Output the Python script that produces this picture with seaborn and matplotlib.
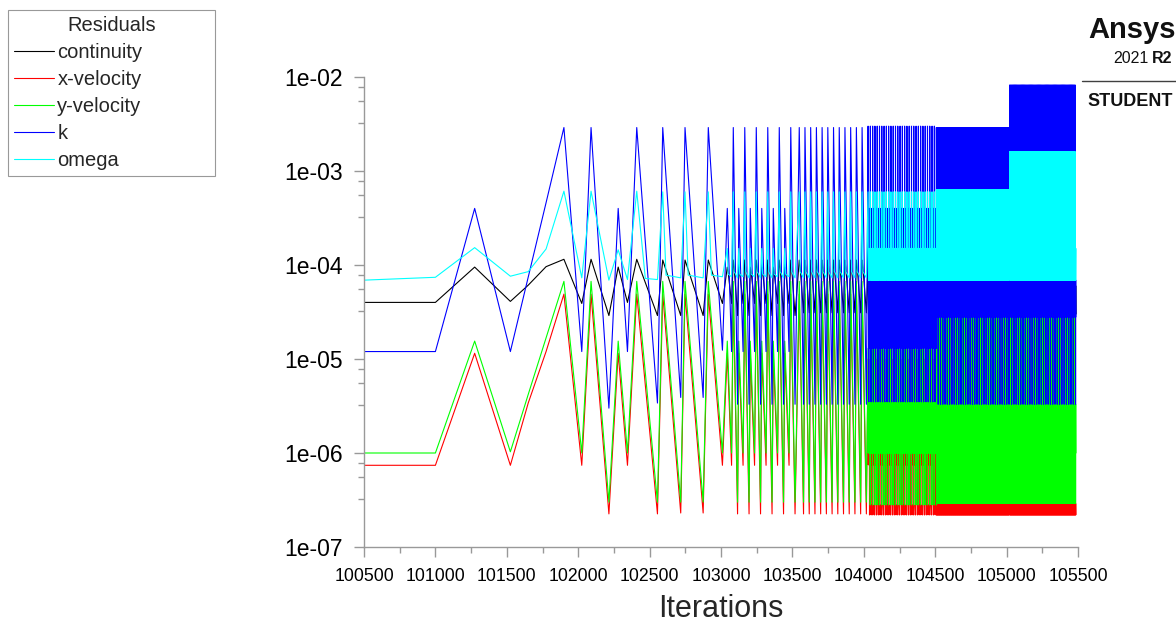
import matplotlib
matplotlib.use("Agg")
import matplotlib.pyplot as plt
import pandas as pd
import seaborn as sns
from matplotlib.lines import Line2D

names = ["continuity", "x-velocity", "y-velocity", "k", "omega"]
colors = ["#000000", "#ff0000", "#00ff00", "#0000ff", "#00ffff"]

# start of the run, read point by point
start_iter = [100500, 101000, 101275, 101525, 101650, 101775, 101900, 102025, 102090, 102215,
              102280, 102345, 102410, 102555, 102592, 102718, 102748, 102875, 102911, 103010]
start_cont = [4.0e-5, 4.0e-5, 9.5e-5, 4.1e-5, 6.1e-5, 9.6e-5, 1.15e-4, 3.9e-5, 1.15e-4, 2.9e-5,
              9.5e-5, 4.0e-5, 1.15e-4, 2.9e-5, 1.13e-4, 2.9e-5, 1.13e-4, 2.9e-5, 1.13e-4, 3.9e-5]
start_xvel = [7.4e-7, 7.4e-7, 1.15e-5, 7.4e-7, 3.4e-6, 1.2e-5, 4.9e-5, 7.4e-7, 4.9e-5, 2.25e-7,
              1.15e-5, 7.4e-7, 4.9e-5, 2.25e-7, 4.9e-5, 2.3e-7, 4.9e-5, 2.3e-7, 4.9e-5, 7.4e-7]
start_yvel = [1.0e-6, 1.0e-6, 1.55e-5, 1.03e-6, 4.2e-6, 1.67e-5, 6.7e-5, 1.0e-6, 6.7e-5, 3.0e-7,
              1.55e-5, 1.0e-6, 6.7e-5, 3.0e-7, 6.7e-5, 3.0e-7, 6.7e-5, 3.0e-7, 6.7e-5, 1.0e-6]
start_k = [1.2e-5, 1.2e-5, 4.0e-4, 1.2e-5, 7.4e-5, 4.6e-4, 2.9e-3, 1.2e-5, 2.9e-3, 3.0e-6,
           4.0e-4, 1.2e-5, 2.9e-3, 3.4e-6, 2.9e-3, 3.9e-6, 2.9e-3, 3.9e-6, 2.9e-3, 1.24e-5]
start_omega_iter = [100500, 101000, 101275, 101525, 101650, 101775, 101900, 102025, 102090, 102215,
                    102280, 102345, 102410, 102470, 102555, 102592, 102615, 102718, 102748, 102770,
                    102875, 102911, 102933, 103010]
start_omega = [6.9e-5, 7.4e-5, 1.53e-4, 7.6e-5, 8.5e-5, 1.48e-4, 6.1e-4, 7.3e-5, 6.1e-4, 6.9e-5,
               1.45e-4, 7.0e-5, 6.1e-4, 7.2e-5, 7.0e-5, 6.0e-4, 7.8e-5, 7.3e-5, 6.0e-4, 7.8e-5,
               7.3e-5, 6.0e-4, 7.8e-5, 7.5e-5]

# repeating stretches: one cycle, repeated
sec2_start, sec2_period, sec2_cycles = 103044, 80.5, 6
sec2_offsets = [0, 6, 30, 42, 48, 72]
sec2_cont = [9.5e-5, 8.5e-5, 3.9e-5, 1.13e-4, 9.5e-5, 2.9e-5]
sec2_xvel = [1.15e-5, 6.6e-6, 7.4e-7, 4.9e-5, 1.7e-5, 2.25e-7]
sec2_yvel = [1.55e-5, 8.9e-6, 1.0e-6, 6.7e-5, 2.3e-5, 3.0e-7]
sec2_k = [4.0e-4, 2.0e-4, 1.2e-5, 2.9e-3, 7.4e-4, 3.3e-6]
sec2_omega = [1.5e-4, 8.0e-5, 7.5e-5, 6.0e-4, 8.5e-5, 7.3e-5]

sec3_start, sec3_period, sec3_cycles = 103548, 40, 12
sec3_offsets = [0, 6, 30]
sec3_cont = [1.13e-4, 9.5e-5, 3.1e-5]
sec3_xvel = [4.9e-5, 1.7e-5, 2.25e-7]
sec3_yvel = [6.7e-5, 2.3e-5, 3.0e-7]
sec3_k = [2.9e-3, 7.4e-4, 3.3e-6]
sec3_omega = [6.0e-4, 8.5e-5, 7.3e-5]

sec4_start, sec4_period, sec4_cycles = 104030, 16, 30
sec4_offsets = [0, 1, 3, 5, 7, 9, 10, 11, 13, 15]
sec4_cont = [1.13e-4, 5.0e-5, 3.0e-5, 5.0e-5, 3.0e-5, 5.0e-5, 3.0e-5, 5.0e-5, 3.0e-5, 4.0e-5]
sec4_xvel = [1.0e-5, 7.5e-7, 1.0e-6, 7.5e-7, 1.0e-6, 7.5e-7, 2.2e-7, 2.8e-7, 2.2e-7, 2.8e-7]
sec4_yvel = [1.3e-5, 1.0e-6, 3.5e-6, 1.0e-6, 3.5e-6, 1.0e-6, 3.5e-6, 1.0e-6, 3.5e-6, 2.8e-7]
sec4_k = [3.0e-3, 1.5e-4, 6.9e-5, 3.5e-6, 6.9e-5, 4.0e-4, 1.5e-4, 4.0e-4, 6.9e-5, 1.3e-5]
sec4_omega = [6.0e-4, 1.5e-4, 6.9e-5, 1.5e-4, 6.9e-5, 1.5e-4, 6.9e-5, 1.5e-4, 6.9e-5, 1.5e-4]

sec5_start, sec5_period, sec5_cycles = 104508, 16, 32
sec5_offsets = list(range(16))
sec5_cont = [1.1e-4, 3.0e-5, 6.0e-5, 3.0e-5, 6.0e-5, 3.0e-5, 6.0e-5, 3.0e-5,
             1.1e-4, 3.0e-5, 6.0e-5, 3.0e-5, 6.0e-5, 3.0e-5, 6.0e-5, 3.0e-5]
sec5_xvel = [2.0e-5, 2.2e-7, 2.9e-7, 2.2e-7, 2.9e-7, 2.2e-7, 2.9e-7, 2.2e-7,
             2.0e-5, 2.2e-7, 2.9e-7, 2.2e-7, 2.9e-7, 2.2e-7, 2.9e-7, 2.2e-7]
sec5_yvel = [2.8e-5, 1.0e-6, 3.3e-6, 1.0e-6, 3.3e-6, 2.9e-7, 3.3e-6, 1.0e-6,
             2.8e-5, 1.0e-6, 3.3e-6, 1.0e-6, 3.3e-6, 2.9e-7, 3.3e-6, 1.0e-6]
sec5_k = [2.9e-3, 6.3e-4, 2.9e-3, 6.3e-4, 6.9e-5, 2.8e-5, 6.9e-5, 2.8e-5,
          2.9e-3, 6.3e-4, 2.9e-3, 6.3e-4, 6.9e-5, 3.3e-6, 6.9e-5, 2.8e-5]
sec5_omega = [6.3e-4, 1.5e-4, 6.3e-4, 1.5e-4, 6.9e-5, 1.5e-4, 6.9e-5, 1.5e-4,
              6.3e-4, 1.5e-4, 6.3e-4, 1.5e-4, 6.9e-5, 1.5e-4, 6.9e-5, 1.5e-4]

sec6_start, sec6_period, sec6_cycles = 105022, 16, 29
sec6_k = [8.2e-3, 1.6e-3, 8.2e-3, 1.6e-3, 6.9e-5, 2.8e-5, 6.9e-5, 2.8e-5,
          8.2e-3, 1.6e-3, 8.2e-3, 1.6e-3, 6.9e-5, 3.3e-6, 6.9e-5, 2.8e-5]
sec6_omega = [1.6e-3, 1.5e-4, 1.6e-3, 1.5e-4, 6.9e-5, 1.5e-4, 6.9e-5, 1.5e-4,
              1.6e-3, 1.5e-4, 1.6e-3, 1.5e-4, 6.9e-5, 1.5e-4, 6.9e-5, 1.5e-4]


def repeat(start, period, cycles, offsets, values):
    its = [start + n * period + o for n in range(cycles) for o in offsets]
    return its, list(values) * cycles


sections = [
    (sec2_start, sec2_period, sec2_cycles, sec2_offsets,
     [sec2_cont, sec2_xvel, sec2_yvel, sec2_k, sec2_omega]),
    (sec3_start, sec3_period, sec3_cycles, sec3_offsets,
     [sec3_cont, sec3_xvel, sec3_yvel, sec3_k, sec3_omega]),
    (sec4_start, sec4_period, sec4_cycles, sec4_offsets,
     [sec4_cont, sec4_xvel, sec4_yvel, sec4_k, sec4_omega]),
    (sec5_start, sec5_period, sec5_cycles, sec5_offsets,
     [sec5_cont, sec5_xvel, sec5_yvel, sec5_k, sec5_omega]),
    (sec6_start, sec6_period, sec6_cycles, sec5_offsets,
     [sec5_cont, sec5_xvel, sec5_yvel, sec6_k, sec6_omega]),
]

starts = [(start_iter, start_cont), (start_iter, start_xvel), (start_iter, start_yvel),
          (start_iter, start_k), (start_omega_iter, start_omega)]

frames = []
for i, name in enumerate(names):
    its = list(starts[i][0])
    vals = list(starts[i][1])
    for start, period, cycles, offsets, values in sections:
        a, b = repeat(start, period, cycles, offsets, values[i])
        its += a
        vals += b
    frames.append(pd.DataFrame({"Iterations": its, "Residual": vals, "series": name}))
df = pd.concat(frames, ignore_index=True)

sns.set_theme(style="ticks")
plt.rcParams["font.family"] = ["Liberation Sans", "DejaVu Sans"]

fig = plt.figure(figsize=(11.76, 6.23), dpi=100)
ax = fig.add_axes([364 / 1176, 1 - 547 / 623, 714 / 1176, 470 / 623])

sns.lineplot(data=df, x="Iterations", y="Residual", hue="series", hue_order=names,
             palette=dict(zip(names, colors)), estimator=None, sort=False,
             linewidth=0.8, ax=ax, legend=False)

ax.set_yscale("log")
ax.set_xlim(100500, 105500)
ax.set_ylim(1e-7, 1e-2)

xt = list(range(100500, 105501, 500))
ax.set_xticks(xt)
ax.set_xticklabels([str(v) for v in xt], fontsize=12.7)
ax.set_xticks([v + 250 for v in xt[:-1]], minor=True)
yt = [1e-7, 1e-6, 1e-5, 1e-4, 1e-3, 1e-2]
ax.set_yticks(yt)
ax.set_yticklabels([f"{v:.0e}" for v in yt], fontsize=16.5)
ax.set_yticks([m * d for d in yt[:-1] for m in (3.25, 5.5, 7.75)], minor=True)
ax.yaxis.set_minor_formatter(plt.NullFormatter())

ax.tick_params(which="major", length=7, width=1, color="#999999", pad=8, labelcolor="#000000")
ax.tick_params(which="minor", length=4, width=1, color="#999999")
sns.despine(ax=ax)
for s in ("left", "bottom"):
    ax.spines[s].set_color("#999999")
    ax.spines[s].set_linewidth(1)

ax.set_xlabel("Iterations", fontsize=22)
ax.xaxis.label.set_va("baseline")
ax.xaxis.set_label_coords(0.5, (547 - 617) / 470)
ax.set_ylabel("")

handles = [Line2D([], [], color=c, lw=0.8) for c in colors]
ax.legend(handles, names, title="Residuals", loc="upper left",
          bbox_to_anchor=(8 / 1176, 1 - 173 / 623, 207 / 1176, 163 / 623),
          bbox_transform=fig.transFigure, mode="expand", frameon=True, fancybox=False,
          edgecolor="#808080", fontsize=14.5, title_fontsize=14.5, handlelength=2.0,
          handletextpad=0.15, labelspacing=0.40, borderpad=0.3, borderaxespad=0)
ax.get_legend().get_frame().set_linewidth(0.8)

# logo in the top right corner
fig.text(1.0, 1 - 38 / 623, "Ansys", ha="right", va="baseline", fontsize=21,
         fontweight="bold", color="#111111")
fig.text(1148 / 1176, 1 - 63 / 623, "2021", ha="right", va="baseline", fontsize=11.5,
         color="#111111")
fig.text(1152 / 1176, 1 - 63 / 623, "R2", ha="left", va="baseline", fontsize=11.5,
         fontweight="bold", color="#111111")
fig.add_artist(Line2D([1082 / 1176, 1.0], [1 - 81 / 623, 1 - 81 / 623],
                      transform=fig.transFigure, color="#404040", lw=1))
fig.text(1087 / 1176, 1 - 106 / 623, "STUDENT", ha="left", va="baseline", fontsize=13,
         fontweight="bold", color="#111111")

fig.savefig("out.png", dpi=100, facecolor="white")
